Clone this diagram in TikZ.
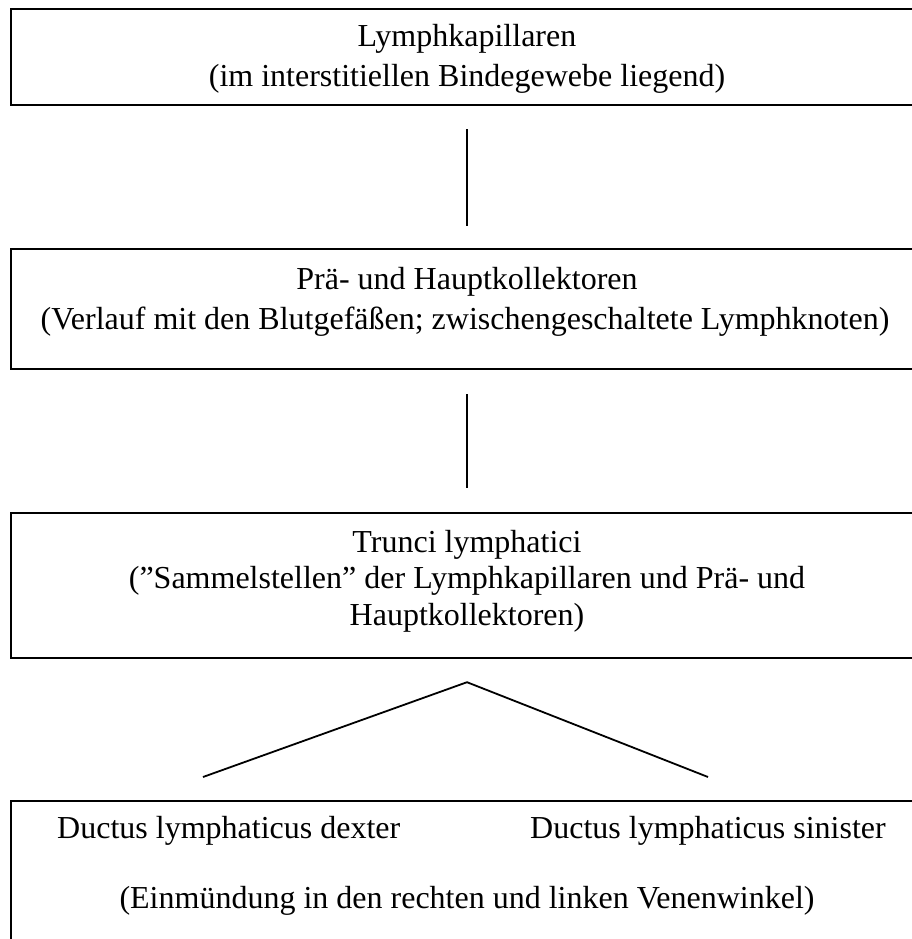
\documentclass[tikz,border=0pt]{standalone}
\usepackage{fontspec}
\setmainfont{Liberation Serif}
\begin{document}
\begin{tikzpicture}[x=1pt,y=-1pt,
  boxstyle/.style={draw,line width=2.2pt,minimum width=912pt,inner sep=0pt,anchor=north},
  txt/.style={anchor=base,inner sep=0pt,font=\fontsize{32}{38}\selectfont},
  conn/.style={line width=1.8pt}]
\useasboundingbox (0,0) rectangle (912,939);
\fill[white] (0,0) rectangle (912,939);
% boxes
\node[boxstyle,minimum height=96pt]  (b1) at (467,8) {};
\node[boxstyle,minimum height=120pt] (b2) at (467,248) {};
\node[boxstyle,minimum height=145pt] (b3) at (467,512) {};
\node[boxstyle,minimum height=170pt] (b4) at (467,800) {};
% texts
\node[txt] (t1a) at (467,47) {Lymphkapillaren};
\node[txt] (t1b) at (467,87) {(im interstitiellen Bindegewebe liegend)};
\node[txt] (t2a) at (467,289) {Prä- und Hauptkollektoren};
\node[txt] (t2b) at (465,329) {(Verlauf mit den Blutgefäßen; zwischengeschaltete Lymphknoten)};
\node[txt] (t3a) at (467,552) {Trunci lymphatici};
\node[txt] (t3b) at (467,588) {(”Sammelstellen” der Lymphkapillaren und Prä- und};
\node[txt] (t3c) at (467,625) {Hauptkollektoren)};
\node[txt,anchor=base west] (t4a) at (57,838) {Ductus lymphaticus dexter};
\node[txt,anchor=base west] (t4b) at (530,838) {Ductus lymphaticus sinister};
\node[txt] (t4c) at (467,908) {(Einmündung in den rechten und linken Venenwinkel)};
% connectors
\draw[conn,shorten <=23pt,shorten >=22pt] (b1.south) -- (b2.north);
\draw[conn,shorten <=24pt,shorten >=24pt] (b2.south) -- (b3.north);
\coordinate (apex) at ([yshift=-23pt]b3.south);
\coordinate (dl) at (203,777);
\coordinate (dr) at (708,777);
\draw[conn] (dl) -- (apex) -- (dr);
\end{tikzpicture}
\end{document}
